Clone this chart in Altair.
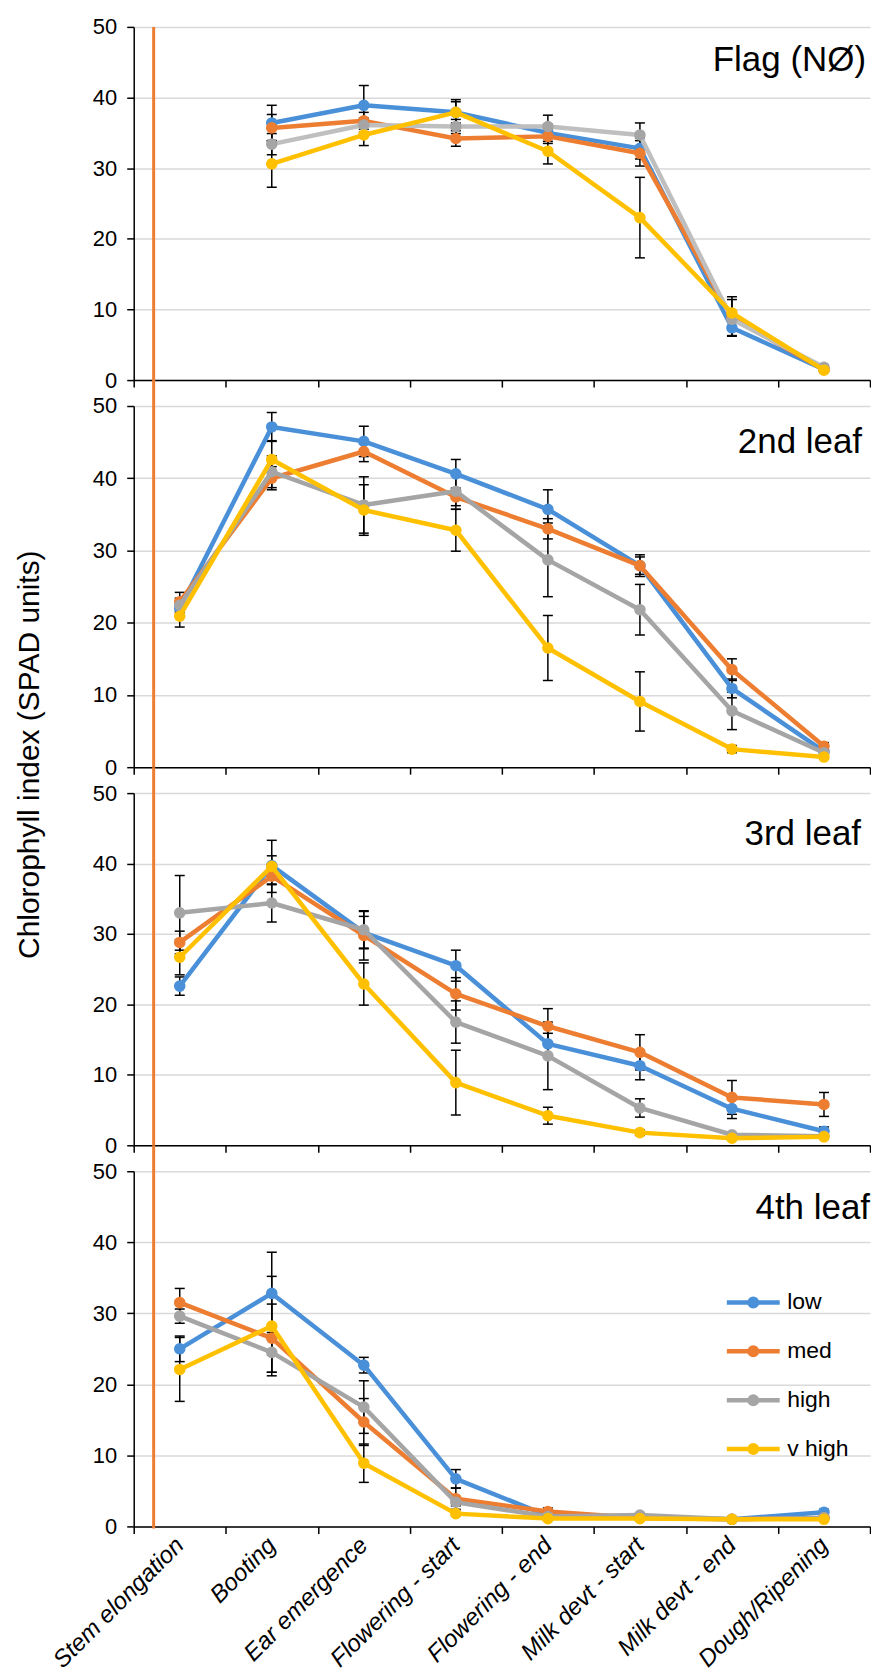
import altair as alt
import pandas as pd

stages = ["Stem elongation", "Booting", "Ear emergence", "Flowering - start",
          "Flowering - end", "Milk devt - start", "Milk devt - end", "Dough/Ripening"]
series = ["low", "med", "high", "v high"]
series_colors = ["#4A90D9", "#ED7D31", "#A5A5A5", "#FFC000"]
flag_line_colors = ["#4A90D9", "#ED7D31", "#BFBFBF", "#FFC000"]
y_ticks = [0, 10, 20, 30, 40, 50]
y_title = "Chlorophyll index (SPAD units)"

# ---- Flag (NØ) ----
flag_mean = {
    "low":    [None, 36.4, 38.9, 37.9, 35.0, 32.8, 7.4, 1.5],
    "med":    [None, 35.7, 36.7, 34.2, 34.5, 32.1, 8.8, 1.5],
    "high":   [None, 33.4, 36.1, 35.9, 35.9, 34.7, 8.6, 1.8],
    "v high": [None, 30.6, 34.7, 37.9, 32.4, 23.0, 9.5, 1.4],
}
flag_err = {
    "low":    [None, 2.5, 2.8, 1.5, 1.2, 1.5, 1.1, 0.3],
    "med":    [None, 1.9, 1.2, 1.1, 1.0, 1.8, 2.6, 0.3],
    "high":   [None, 1.5, 1.0, 1.0, 1.6, 1.7, 1.0, 0.3],
    "v high": [None, 3.3, 1.5, 1.8, 1.8, 5.7, 2.3, 0.3],
}
# ---- 2nd leaf ----
leaf2_mean = {
    "low":    [22.0, 47.1, 45.1, 40.6, 35.7, 27.9, 10.9, 2.2],
    "med":    [22.9, 40.0, 43.7, 37.4, 33.0, 27.9, 13.5, 2.9],
    "high":   [22.4, 40.9, 36.3, 38.2, 28.7, 21.8, 7.8, 2.0],
    "v high": [20.9, 42.6, 35.6, 32.8, 16.5, 9.1, 2.5, 1.4],
}
leaf2_err = {
    "low":    [1.0, 2.0, 2.1, 2.0, 2.7, 1.5, 1.3, 0.5],
    "med":    [1.3, 1.6, 1.4, 1.2, 1.4, 1.2, 1.5, 0.5],
    "high":   [1.0, 2.2, 3.9, 2.5, 5.1, 3.5, 2.6, 0.5],
    "v high": [1.5, 2.6, 3.5, 2.9, 4.5, 4.1, 0.5, 0.3],
}
# ---- 3rd leaf ----
leaf3_mean = {
    "low":    [22.6, 39.7, 30.2, 25.5, 14.4, 11.3, 5.2, 2.0],
    "med":    [28.8, 38.2, 29.8, 21.5, 16.9, 13.2, 6.8, 5.8],
    "high":   [33.0, 34.4, 30.6, 17.5, 12.7, 5.3, 1.5, 1.3],
    "v high": [26.7, 39.6, 22.9, 8.9, 4.2, 1.8, 1.0, 1.2],
}
leaf3_err = {
    "low":    [1.3, 1.4, 2.3, 2.2, 1.5, 2.0, 1.4, 0.6],
    "med":    [1.6, 1.2, 3.5, 2.3, 2.5, 2.5, 2.4, 1.7],
    "high":   [5.3, 2.7, 2.6, 3.0, 4.8, 1.3, 0.3, 0.3],
    "v high": [2.5, 3.7, 3.0, 4.6, 1.2, 0.4, 0.3, 0.3],
}
# ---- 4th leaf ----
leaf4_mean = {
    "low":    [25.0, 32.8, 22.7, 6.7, 1.5, 1.3, 1.0, 2.0],
    "med":    [31.5, 26.5, 14.7, 3.9, 2.1, 1.2, 1.0, 1.2],
    "high":   [29.6, 24.5, 16.8, 3.4, 1.4, 1.6, 1.0, 1.2],
    "v high": [22.1, 28.2, 8.9, 1.8, 1.1, 1.1, 1.0, 1.0],
}
leaf4_err = {
    "low":    [1.8, 5.8, 1.1, 1.3, 0.3, 0.3, 0.2, 0.4],
    "med":    [2.0, 4.8, 3.3, 1.5, 0.5, 0.3, 0.2, 0.3],
    "high":   [1.0, 2.8, 3.7, 0.5, 0.3, 0.3, 0.2, 0.3],
    "v high": [4.5, 7.0, 2.7, 0.3, 0.3, 0.2, 0.2, 0.2],
}

FONT = "Liberation Sans"
PLOT_W = 738
SPACING = 26

legend_path = ("M-2.12,0L2.12,0M-0.3,0A0.3,0.3,0,1,0,0.3,0"
               "A0.3,0.3,0,1,0,-0.3,0Z")


def long_table(means, errs):
    rows = []
    for s in series:
        for i, st in enumerate(stages):
            m = means[s][i]
            if m is None:
                continue
            e = errs[s][i]
            rows.append({"stage": st, "series": s, "value": m,
                         "lo": m - e, "hi": m + e})
    return pd.DataFrame(rows)


def panel(name, means, errs, height, title_x, title_y, last, with_ytitle,
          line_colors, rule_top, rule_bottom):
    df = long_table(means, errs)
    label_df = pd.DataFrame({"label": [name]})

    xaxis_kw = dict(tickBand="extent", grid=False, domainColor="black",
                    domainWidth=1.5, tickColor="black", tickWidth=1.5,
                    tickSize=7)
    if last:
        xaxis = alt.Axis(labels=True, labelAngle=315, labelAlign="right",
                         labelBaseline="middle", labelFontSize=24,
                         labelFontStyle="italic", labelPadding=8,
                         labelColor="black", labelOverlap=False,
                         labelLimit=400, **xaxis_kw)
    else:
        xaxis = alt.Axis(labels=False, **xaxis_kw)
    xscale = alt.Scale(type="band", domain=stages, paddingInner=0,
                       paddingOuter=0)

    def xchan():
        return alt.X("stage:N", scale=xscale, axis=xaxis, title=None,
                     bandPosition=0.5)

    yscale = alt.Scale(domain=[0, 50], nice=False, zero=True)
    yaxis_kw = dict(values=y_ticks, grid=True, gridColor="#D9D9D9",
                    gridWidth=1.5, domainColor="black", domainWidth=1.5,
                    tickColor="black", tickWidth=1.5, tickSize=7,
                    labelFontSize=22, labelColor="black", labelPadding=10)
    if with_ytitle:
        yaxis = alt.Axis(title=y_title, titleFontSize=30,
                         titleFontWeight="normal", titleColor="black",
                         titleX=-104, titleY=-39, titleAngle=270,
                         titleAlign="center", titleBaseline="middle",
                         **yaxis_kw)
    else:
        yaxis = alt.Axis(title=None, **yaxis_kw)

    def ychan(field):
        return alt.Y(field + ":Q", scale=yscale, axis=yaxis)

    if last:
        leg = alt.Legend(orient="none", legendX=606, legendY=116.5,
                         title=None, symbolType=legend_path, symbolSize=625,
                         symbolStrokeWidth=4.5, labelFontSize=23,
                         labelColor="black", labelOffset=19, rowPadding=21,
                         padding=0, labelFont=FONT)
    else:
        leg = None

    orange = alt.Chart(label_df).mark_rule(color="#ED7D31", strokeWidth=3).encode(
        x=alt.value(20), y=alt.value(rule_top), y2=alt.value(rule_bottom))

    err_rule = alt.Chart(df).mark_rule(color="black", strokeWidth=1.5).encode(
        x=xchan(), y=ychan("lo"), y2="hi:Q")
    cap_lo = alt.Chart(df).mark_tick(color="black", thickness=1.5, size=10,
                                     opacity=1).encode(x=xchan(), y=ychan("lo"))
    cap_hi = alt.Chart(df).mark_tick(color="black", thickness=1.5, size=10,
                                     opacity=1).encode(x=xchan(), y=ychan("hi"))

    layers = [orange, err_rule, cap_lo, cap_hi]
    for s in series:
        sub = df[df["series"] == s]
        line = alt.Chart(sub).mark_line(strokeWidth=4.5, strokeJoin="round").encode(
            x=xchan(), y=ychan("value"),
            stroke=alt.Stroke("series:N",
                              scale=alt.Scale(domain=series, range=line_colors),
                              legend=leg))
        pts = alt.Chart(sub).mark_circle(size=135, opacity=1).encode(
            x=xchan(), y=ychan("value"),
            fill=alt.Fill("series:N",
                          scale=alt.Scale(domain=series, range=series_colors),
                          legend=leg))
        layers += [line, pts]

    title_text = alt.Chart(label_df).mark_text(
        align="right", baseline="alphabetic", fontSize=35, font=FONT,
        color="black").encode(x=alt.value(title_x), y=alt.value(title_y),
                              text="label:N")
    layers.append(title_text)

    return alt.layer(*layers).properties(width=PLOT_W, height=height)


p1 = panel("Flag (NØ)", flag_mean, flag_err, 354, 734, 44, False, False,
           flag_line_colors, 0, 354)
p2 = panel("2nd leaf", leaf2_mean, leaf2_err, 362, 730, 47, False, False,
           series_colors, -SPACING, 362)
p3 = panel("3rd leaf", leaf3_mean, leaf3_err, 353, 729, 52, False, True,
           series_colors, -SPACING, 353)
p4 = panel("4th leaf", leaf4_mean, leaf4_err, 356, 738, 48, True, False,
           series_colors, -SPACING, 358)

chart = alt.vconcat(p1, p2, p3, p4, spacing=SPACING, bounds="flush").resolve_scale(
    stroke="independent", fill="independent").resolve_legend(
    stroke="independent", fill="independent").properties(
    padding={"left": 6, "top": 6, "right": 0, "bottom": 0}).configure(
    font=FONT).configure_view(stroke=None)

chart.save("out.html", embed_options={"renderer": "svg", "actions": False})
